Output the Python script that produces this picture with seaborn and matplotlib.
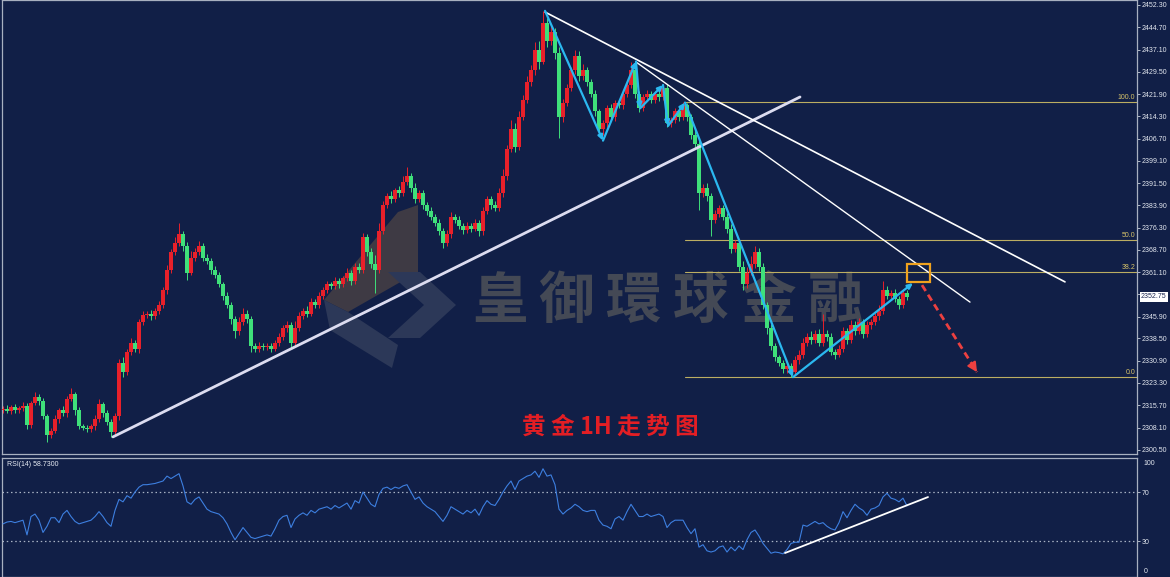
import numpy as np
import pandas as pd
import seaborn as sns
import matplotlib.pyplot as plt
import matplotlib.transforms as mtransforms
from matplotlib.patches import Rectangle, Polygon

# ---- data (1H gold candles, index = bar number) ----
closes = [
    2314.5, 2313.8, 2315.2, 2314.0, 2314.6, 2315.3, 2309.0, 2316.5, 2318.5, 2317.0,
    2312.0, 2305.5, 2307.0, 2311.0, 2314.0, 2313.0, 2318.0, 2319.5, 2314.0, 2308.5,
    2308.0, 2307.5, 2308.5, 2311.0, 2316.0, 2313.0, 2310.0, 2306.5, 2312.0, 2330.0,
    2327.0, 2334.0, 2337.0, 2335.0, 2344.0, 2346.5, 2347.0, 2346.0, 2348.0, 2350.0,
    2355.0, 2362.0, 2368.0, 2371.0, 2374.0, 2370.0, 2361.0, 2366.0, 2368.0, 2370.0,
    2366.0, 2365.0, 2362.0, 2360.0, 2357.0, 2353.0, 2350.0, 2345.0, 2341.0, 2344.0,
    2347.0, 2345.0, 2336.0, 2335.0, 2336.0, 2335.5, 2336.0, 2335.0, 2337.0, 2339.0,
    2342.0, 2343.0, 2337.0, 2342.0, 2346.0, 2348.0, 2347.0, 2351.0, 2350.0, 2353.0,
    2355.0, 2357.0, 2356.5, 2358.0, 2357.0, 2359.0, 2361.0, 2358.0, 2363.0, 2362.0,
    2373.0, 2368.0, 2364.0, 2362.0, 2375.0, 2384.0, 2387.0, 2386.0, 2389.0, 2388.0,
    2392.0, 2394.0, 2390.0, 2386.0, 2388.0, 2384.0, 2382.0, 2380.0, 2378.0, 2375.0,
    2371.0, 2374.0, 2380.0, 2379.0, 2377.0, 2375.5, 2377.0, 2376.0, 2378.0, 2375.0,
    2382.0, 2386.0, 2384.0, 2383.0, 2388.0, 2394.0, 2403.0, 2410.0, 2404.0, 2414.0,
    2420.0, 2426.0, 2430.0, 2437.0, 2433.0, 2446.0, 2440.0, 2443.0, 2436.0, 2414.0,
    2419.0, 2424.0, 2430.0, 2435.0, 2428.0, 2430.0, 2426.0, 2422.0, 2416.0, 2410.0,
    2412.0, 2417.0, 2414.0, 2419.0, 2418.0, 2422.0, 2425.0, 2430.0, 2422.0, 2417.0,
    2421.0, 2422.0, 2420.0, 2422.0, 2421.0, 2424.0, 2412.0, 2413.0, 2416.0, 2414.0,
    2418.0, 2414.0, 2408.0, 2405.0, 2388.0, 2390.0, 2387.0, 2379.0, 2381.0, 2383.0,
    2380.0, 2376.0, 2369.0, 2371.0, 2363.0, 2357.0, 2361.0, 2364.0, 2368.0, 2363.0,
    2350.0, 2342.0, 2336.0, 2332.0, 2330.0, 2328.0, 2329.0, 2327.0, 2331.0, 2333.0,
    2337.0, 2339.0, 2338.0, 2340.0, 2337.0, 2340.0, 2339.0, 2334.0, 2333.0, 2335.0,
    2341.0, 2338.0, 2343.0, 2341.0, 2344.0, 2340.0, 2343.0, 2344.0, 2346.0, 2348.0,
    2355.0, 2353.0, 2354.0, 2352.0, 2350.0, 2354.0, 2352.75,
]
first_open = 2314.0

upper_wick = [
    0.8, 1.2, 0.6, 1.0, 0.9, 1.5, 1.1, 0.7, 1.8, 0.9,
    1.2, 0.8, 1.0, 1.4, 0.9, 1.6, 1.0, 2.2, 0.8, 1.1,
    0.7, 0.9, 0.8, 1.3, 1.9, 0.8, 1.0, 0.9, 1.2, 1.5,
    2.2, 0.9, 1.6, 1.1, 1.0, 1.3, 0.8, 1.2, 0.9, 1.4,
    1.1, 1.7, 1.0, 2.0, 4.0, 1.3, 1.5, 2.4, 1.2, 1.6,
    1.0, 1.3, 0.9, 1.1, 1.2, 0.8, 1.4, 1.0, 1.2, 1.8,
    2.0, 1.1, 1.0, 0.9, 1.2, 0.8, 1.0, 0.9, 1.1, 1.3,
    1.2, 1.5, 1.0, 2.5, 1.4, 1.0, 1.6, 1.2, 1.1, 1.3,
    1.0, 1.2, 0.9, 1.5, 1.1, 0.8, 1.4, 1.0, 1.3, 1.2,
    1.5, 1.0, 1.2, 3.0, 3.0, 1.4, 1.2, 1.8, 1.0, 1.5,
    1.8, 3.0, 1.1, 1.4, 1.0, 1.2, 0.9, 1.3, 1.0, 1.1,
    1.2, 1.4, 1.6, 1.0, 1.2, 0.9, 1.1, 1.0, 1.3, 0.8,
    1.5, 1.2, 1.0, 1.4, 2.0, 2.4, 1.5, 3.0, 2.0, 2.2,
    1.5, 2.0, 1.8, 2.5, 3.0, 4.3, 2.0, 2.5, 1.5, 1.8,
    1.2, 1.5, 1.0, 1.8, 1.5, 2.0, 1.2, 1.0, 1.4, 0.9,
    1.2, 1.0, 1.5, 1.0, 1.2, 1.0, 1.5, 3.0, 1.2, 1.0,
    1.0, 1.2, 0.8, 1.0, 1.1, 1.2, 1.5, 1.2, 1.0, 1.4,
    1.2, 1.0, 1.2, 1.5, 2.0, 1.2, 1.4, 1.0, 1.5, 1.2,
    1.0, 1.2, 1.5, 1.0, 1.3, 1.8, 2.0, 2.5, 2.0, 1.5,
    1.2, 1.0, 1.3, 1.0, 0.9, 1.2, 1.0, 1.1, 1.5, 1.4,
    1.5, 1.2, 2.0, 1.3, 1.6, 7.0, 1.4, 1.2, 1.0, 1.3,
    1.5, 1.2, 1.8, 1.3, 1.6, 1.0, 1.4, 1.2, 1.3, 1.8,
    3.0, 1.5, 1.2, 1.4, 1.0, 1.5, 1.0,
]
lower_wick = [
    1.0, 0.8, 1.2, 0.9, 1.0, 0.7, 1.5, 1.0, 0.8, 1.2,
    1.0, 2.5, 1.1, 0.9, 1.2, 1.0, 1.3, 0.9, 1.5, 1.0,
    0.9, 1.0, 0.8, 1.1, 1.0, 1.2, 0.9, 1.5, 1.0, 1.2,
    1.5, 1.0, 1.2, 1.0, 1.4, 0.8, 1.0, 1.1, 0.9, 1.2,
    1.0, 1.3, 1.2, 0.9, 1.0, 1.5, 2.5, 1.0, 1.2, 1.0,
    1.2, 1.0, 1.4, 0.9, 1.1, 1.3, 1.0, 1.5, 2.5, 1.2,
    1.0, 1.3, 2.0, 1.0, 1.2, 0.9, 1.0, 1.1, 0.8, 1.0,
    1.0, 1.2, 1.5, 1.0, 1.1, 1.0, 1.3, 0.9, 1.2, 1.0,
    1.1, 0.9, 1.2, 1.0, 1.3, 0.9, 1.0, 1.4, 1.0, 1.2,
    1.0, 1.5, 1.3, 8.0, 1.2, 1.0, 1.1, 1.3, 1.0, 1.2,
    1.0, 1.2, 1.5, 1.3, 1.0, 1.2, 1.4, 1.0, 1.1, 1.3,
    1.5, 1.0, 1.2, 1.0, 1.1, 1.3, 1.0, 1.2, 0.9, 1.5,
    1.2, 1.0, 1.3, 1.1, 1.0, 1.2, 1.4, 1.0, 2.0, 1.2,
    1.0, 1.3, 1.2, 1.5, 2.5, 1.0, 2.0, 1.5, 2.0, 7.0,
    1.5, 1.2, 1.0, 1.3, 1.5, 1.2, 1.4, 1.0, 1.5, 1.8,
    2.0, 1.2, 1.0, 1.3, 1.0, 1.2, 1.0, 1.1, 1.3, 1.2,
    1.0, 1.2, 1.1, 1.0, 1.3, 1.0, 1.5, 1.2, 1.0, 1.3,
    1.0, 1.2, 1.5, 1.3, 5.5, 1.2, 1.5, 5.5, 1.2, 1.0,
    1.2, 1.5, 1.3, 1.0, 1.5, 1.8, 1.2, 1.0, 1.3, 1.5,
    1.5, 2.0, 1.5, 1.2, 1.0, 1.3, 1.2, 1.7, 1.0, 1.2,
    1.2, 1.0, 1.3, 1.1, 1.2, 1.0, 1.4, 1.2, 1.5, 1.0,
    1.2, 1.3, 1.0, 1.2, 1.1, 1.3, 1.0, 1.2, 1.0, 1.1,
    1.0, 1.2, 1.1, 1.0, 1.5, 1.2, 1.0,
]

rsi = [
    44, 45.5, 46, 45, 46, 47, 35, 50, 52, 47,
    37, 42, 49, 49, 45, 52, 55, 50, 46, 44,
    45, 46, 47, 50, 54, 50, 45, 42, 55, 64,
    62, 67, 65, 70, 74, 76, 76, 76.5, 77, 78,
    79, 83, 81, 83, 85, 75, 62, 60, 64, 66,
    61, 56, 54, 53, 52, 49, 44, 37, 31, 36,
    41, 37, 33, 32, 33, 34, 35, 34, 40, 47,
    50, 51, 41, 48, 51, 53, 51, 55, 53, 56,
    57, 58, 56, 59, 57, 59, 61, 56, 63, 61,
    70, 65, 60, 58, 68, 73, 74, 72, 74, 73,
    75, 76, 70, 64, 66, 61, 58, 56, 54, 50,
    46, 51, 58, 56, 54, 52, 55, 53, 56, 51,
    58, 63, 60, 59, 64, 70, 75, 79, 72, 79,
    81, 83, 84, 87, 82, 89, 83, 84, 76, 56,
    52, 55, 57, 60, 58, 55, 54, 55, 55, 47,
    43, 42, 40, 48, 50, 47, 54, 60, 55, 50,
    50, 52, 50, 51, 52, 50, 41, 45, 47, 47,
    47, 41, 36, 40, 25, 27, 22, 21, 22, 25,
    26, 21, 25, 22, 26, 23, 31, 37, 39, 34,
    28, 24, 20, 21, 20.5, 19.5, 23, 28, 29, 29,
    43, 42, 44, 46, 44, 45, 42, 40, 39, 45,
    54, 49, 55, 60, 57, 55, 51, 56, 57, 59,
    66, 69, 65, 64, 62, 65, 58.73,
]

price_ticks = [2452.30, 2444.70, 2437.10, 2429.50, 2421.90, 2414.30, 2406.70,
               2399.10, 2391.50, 2383.90, 2376.30, 2368.70, 2361.10, 2353.50,
               2345.90, 2338.50, 2330.90, 2323.30, 2315.70, 2308.10, 2300.50]
last_price = 2352.75

fib_levels = [2419.2, 2372.25, 2361.1, 2325.3]
fib_labels = ["100.0", "50.0", "38.2", "0.0"]
fib_start = 170.5

# drawn analysis objects (bar index, price)
support_x, support_y = [27.5, 199.25], [2304.9, 2420.9]
res1_x, res1_y = [135.5, 265.5], [2449.9, 2357.8]
res2_x, res2_y = [158.25, 241.75], [2432.85, 2350.9]
wave_x = [135.5, 150.0, 158.25, 159.25, 165.0, 166.25, 170.5, 197.5, 227.5]
wave_y = [2450.3, 2406.0, 2433.0, 2417.0, 2425.0, 2411.0, 2419.0, 2325.3, 2357.4]
box_x, box_y = [226.0, 231.75], [2357.8, 2363.9]
drop_x, drop_y = [229.75, 243.5], [2356.7, 2327.0]
rsi_line_x, rsi_line_y = [195.5, 231.25], [20.2, 65.9]

# ---- frame ----
df = pd.DataFrame({"bar": np.arange(len(closes)), "close": closes, "rsi": rsi})
df["open"] = [first_open] + closes[:-1]
df["high"] = np.maximum(df["open"], df["close"]) + np.array(upper_wick)
df["low"] = np.minimum(df["open"], df["close"]) - np.array(lower_wick)

bg = "#111f47"
sns.set_style("dark", rc={"axes.facecolor": bg, "figure.facecolor": bg,
                          "axes.edgecolor": "#a8b0c0"})
plt.rcParams["font.family"] = ["Liberation Sans", "Noto Sans CJK SC", "DejaVu Sans"]

W, H = 1170, 577
fig = plt.figure(figsize=(W / 100, H / 100), dpi=100)
ax = fig.add_axes([2 / W, 123 / H, 1135 / W, 454 / H])
ax2 = fig.add_axes([2 / W, 0, 1135 / W, 119 / H])

xlim = (-0.25, 283.5)
ax.set_xlim(*xlim)
ax.set_ylim(2299.06, 2454.0)
ax2.set_xlim(*xlim)
ax2.set_ylim(0.6, 97.8)

for a in (ax, ax2):
    a.grid(False)
    a.set_xticks([])
    a.set_xlabel("")
    a.set_ylabel("")
    for s in a.spines.values():
        s.set_color("#a8b0c0")
        s.set_linewidth(0.9)
    a.yaxis.tick_right()
    a.tick_params(axis="y", length=2, width=0.6, color="#c8d0dc", pad=1.5,
                  labelsize=5, labelcolor="#e4e8f0")

# ---- watermark (logo + company name), behind the candles ----
def px(pts):
    return [(x / W, 1 - y / H) for x, y in pts]

ax.add_patch(Polygon(px([(398, 212), (418, 205), (418, 272), (348, 312), (324, 300)]),
                     closed=True, transform=fig.transFigure, fc="#3e3a44", lw=0, zorder=0.5))
ax.add_patch(Polygon(px([(324, 300), (348, 312), (398, 345), (392, 368), (330, 330)]),
                     closed=True, transform=fig.transFigure, fc="#2c3858", lw=0, zorder=0.5))
ax.add_patch(Polygon(px([(388, 272), (420, 272), (456, 305), (420, 338), (388, 338), (424, 305)]),
                     closed=True, transform=fig.transFigure, fc="#2c3858", lw=0, zorder=0.5))
for ch, cx in zip("皇御環球金融", [500, 566, 633, 701, 769, 835]):
    ax.text(cx / W, 1 - 302 / H, ch, transform=fig.transFigure, ha="center", va="center",
            fontsize=40, color="#444955", family=["Noto Sans CJK TC"], weight="bold",
            zorder=0.6)

# ---- candles ----
up = df["close"] >= df["open"]
colors = np.where(up, "#e8202a", "#3fe07a")
ax.vlines(df["bar"], df["low"], df["high"], colors=colors, linewidth=0.7, zorder=2)
body = (df["close"] - df["open"]).abs().clip(lower=0.4)
ax.bar(df["bar"], body, bottom=np.minimum(df["open"], df["close"]), width=0.78,
       color=colors, linewidth=0, zorder=3)

# ---- fibonacci levels ----
for lvl, lab in zip(fib_levels, fib_labels):
    ax.plot([fib_start, xlim[1]], [lvl, lvl], color="#bcae62", lw=0.8, zorder=1.5)
    ax.text(xlim[1] - 0.4, lvl + 0.3, lab, ha="right", va="bottom", fontsize=5,
            color="#d8c46a")

# ---- trend lines ----
ax.plot(support_x, support_y, color="#dcdcf0", lw=2.0, solid_capstyle="round", zorder=4)
ax.plot(res1_x, res1_y, color="white", lw=1.2, zorder=4)
ax.plot(res2_x, res2_y, color="white", lw=1.0, zorder=4)

# ---- wave path ----
for i in range(len(wave_x) - 1):
    ax.annotate("", xy=(wave_x[i + 1], wave_y[i + 1]), xytext=(wave_x[i], wave_y[i]),
                arrowprops=dict(arrowstyle="-|>,head_length=0.3,head_width=0.14",
                                color="#2bb8f0", lw=1.6, shrinkA=0, shrinkB=0),
                zorder=5)

ax.add_patch(Rectangle((box_x[0], box_y[0]), box_x[1] - box_x[0], box_y[1] - box_y[0],
                       fill=False, ec="#f0a21e", lw=1.6, zorder=6))
ax.plot(drop_x, drop_y, color="#ec4040", lw=2.0, linestyle=(0, (2.5, 1.6)), zorder=6)
ax.annotate("", xy=(drop_x[1], drop_y[1]),
            xytext=(drop_x[1] - 0.8, drop_y[1] + 1.7),
            arrowprops=dict(arrowstyle="-|>,head_length=0.55,head_width=0.28",
                            color="#ec4040", lw=1.5, shrinkA=0, shrinkB=0), zorder=6)

# ---- price axis ----
ax.set_yticks(price_ticks)
ax.set_yticklabels([f"{v:.2f}" for v in price_ticks])
trans = mtransforms.blended_transform_factory(ax.transAxes, ax.transData)
ax.text(1.0035, last_price, f"{last_price:.2f}", transform=trans, ha="left", va="center",
        fontsize=5, color="#1a2650", clip_on=False, zorder=10,
        bbox=dict(fc="white", ec="none", boxstyle="square,pad=0.2"))

ax.text(0.5357, 0.06, "黄 金 1H 走 势 图", transform=ax.transAxes, ha="center", va="center",
        fontsize=17, color="#e31e24", family=["Noto Sans CJK SC"], weight="bold")

# ---- RSI panel ----
sns.lineplot(data=df, x="bar", y="rsi", ax=ax2, color="#3d7fe0", lw=0.8, zorder=3)
ax2.set_xlabel("")
ax2.set_ylabel("")
for lvl in (70, 30):
    ax2.axhline(lvl, color="#a8b2c4", lw=0.9, linestyle=(0, (1.2, 2.2)), zorder=1)
ax2.plot(rsi_line_x, rsi_line_y, color="white", lw=1.3, zorder=4)
ax2.set_yticks([70, 30])
ax2.set_yticklabels(["70", "30"])
ax2.text(1.006, 0.985, "100", transform=ax2.transAxes, ha="left", va="top",
         fontsize=5, color="#e4e8f0")
ax2.text(1.006, 0.02, "0", transform=ax2.transAxes, ha="left", va="bottom",
         fontsize=5, color="#e4e8f0")
ax2.text(0.004, 0.975, "RSI(14) 58.7300", transform=ax2.transAxes, ha="left", va="top",
         fontsize=5, color="#e8ecf4")

fig.savefig("out.png", dpi=100, facecolor=bg)
